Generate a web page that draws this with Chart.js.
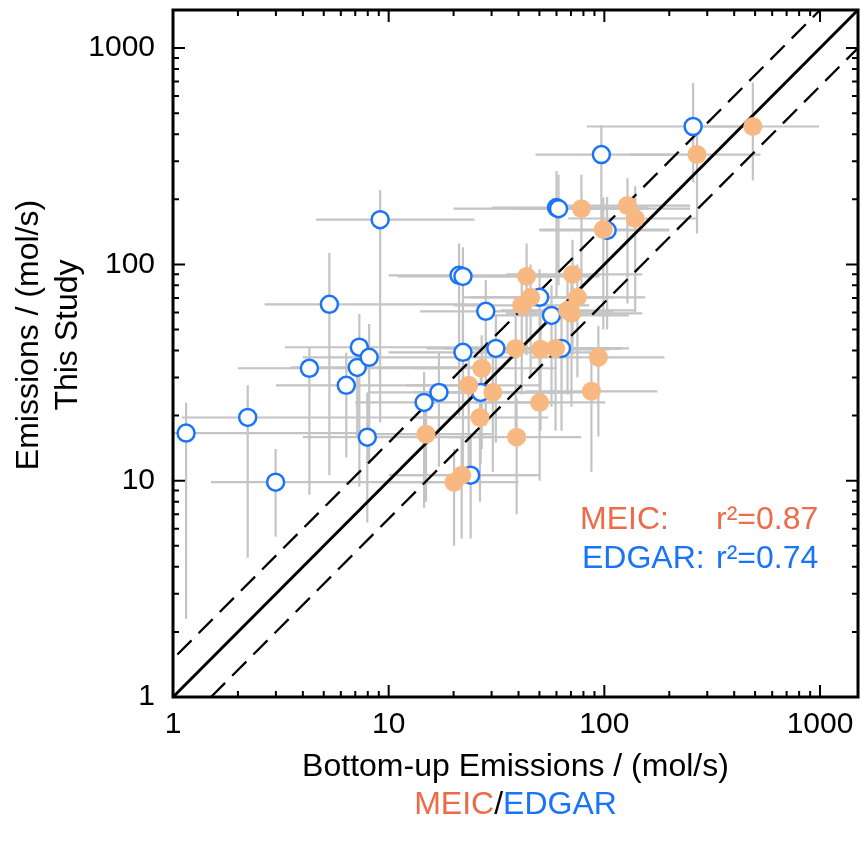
<!DOCTYPE html>
<html>
<head>
<meta charset="utf-8">
<script src="https://cdn.jsdelivr.net/npm/chart.js@4/dist/chart.umd.min.js"></script>
<style>
html,body{margin:0;padding:0;background:#fff;}
#wrap{width:862px;height:848px;position:relative;}
</style>
</head>
<body>
<div id="wrap"><canvas id="c" width="862" height="848"></canvas></div>
<script>
// ---------------- data ----------------
const axisMin = 1;
const axisMax = 1500;
const tickLabels = ['1', '10', '100', '1000'];
const ratioBand = 1.5;          // dashed lines: y = 1.5x and y = x/1.5
const oneToOne = [1, 1500];

// EDGAR (open blue circles)
const edgarX   = [1.15, 2.22, 2.99, 4.29, 5.31, 6.36, 7.15, 7.31, 8.12, 7.96, 9.13, 14.6, 17.1, 21.2, 22.1, 22.1, 24.0, 28.2, 31.4, 26.7, 50.1, 56.9, 63.3, 60.0, 61.3, 96.9, 103, 258];
const edgarY   = [16.6, 19.6, 9.84, 33.1, 65.4, 27.6, 33.4, 41.4, 37.2, 15.9, 161, 23.0, 25.6, 89, 88, 39.2, 10.6, 60.7, 40.9, 25.6, 70.4, 58.1, 40.9, 183, 181, 322, 143.6, 434];
const edgarXLo = [0.5, 1.1, 1.5, 2.0, 2.66, 3.0, 3.5, 3.3, 4.0, 4.0, 4.6, 7, 8, 10, 11, 10, 10, 14, 15, 13, 24, 27, 30, 30, 20, 48, 50, 83];
const edgarXHi = [8, 30, 20, 18, 30, 30, 25, 30, 40, 30, 25, 60, 70, 55, 60, 90, 50, 110, 120, 80, 110, 130, 130, 160, 250, 200, 200, 480];
const edgarYLo = [2.3, 4.4, 5.5, 8.6, 10.6, 12.8, 16, 9.4, 12, 6.4, 18.6, 7.5, 11.6, 20, 25, 11, 5.4, 18, 15, 12, 30, 22, 17, 70, 80, 150, 50, 240];
const edgarYHi = [23, 27.6, 14, 41.5, 113, 39, 45, 59, 53, 25.6, 220, 31.8, 39, 125, 120, 55, 16, 85, 58, 36, 95, 80, 58, 270, 260, 440, 205, 690];

// MEIC (filled orange circles)
const meicX   = [14.9, 20.1, 21.8, 26.5, 23.5, 27.0, 30.4, 38.8, 39.2, 41.4, 43.6, 45.5, 50.1, 50.6, 59.4, 67.5, 70.4, 71.2, 75.0, 78.3, 87.1, 93.8, 98.9, 128, 139, 269, 488];
const meicY   = [16.4, 9.84, 10.6, 19.6, 27.6, 33.1, 25.6, 40.9, 15.9, 64.7, 88, 70.4, 23.0, 40.5, 40.9, 61.3, 59.4, 89.9, 70.4, 181, 25.9, 37.2, 145, 187, 163, 322, 434];
const meicXLo = [7, 10, 11, 13, 12, 13, 15, 18, 19, 20, 21, 22, 25, 25, 28, 33, 35, 35, 37, 38, 43, 46, 50, 62, 68, 130, 250];
const meicXHi = [30, 40, 48, 55, 50, 60, 70, 80, 78, 85, 95, 100, 101, 105, 120, 140, 150, 150, 155, 160, 176, 190, 200, 250, 270, 530, 990];
const meicYLo = [8, 5, 5.4, 8, 11, 14, 11, 16, 7, 25, 38, 30, 10, 17, 17, 25, 22, 38, 30, 70, 11, 16, 50, 66, 60, 139, 244];
const meicYHi = [23, 14, 16, 28, 40, 47, 37, 58, 24, 92, 125, 100, 32, 58, 57, 88, 85, 130, 100, 260, 37, 52, 204, 250, 230, 450, 693];

// ---------------- styles ----------------
const FONT = '"Liberation Sans", Arial, Helvetica, sans-serif';
const COL_MEIC_FILL = '#F8B882';
const COL_MEIC_TEXT = '#EE6B48';
const COL_EDGAR = '#1A74FA';
const COL_ERR = '#C4C4C4';

const pts = (xs, ys) => xs.map((x, i) => ({x: x, y: ys[i]}));

const errorBarPlugin = {
  id: 'errorBars',
  beforeDatasetsDraw(chart) {
    const {ctx, chartArea: a, scales: {x: xs, y: ys}} = chart;
    ctx.save();
    ctx.beginPath();
    ctx.rect(a.left, a.top, a.right - a.left, a.bottom - a.top);
    ctx.clip();
    ctx.strokeStyle = COL_ERR;
    ctx.lineWidth = 2.2;
    const series = [
      [edgarX, edgarY, edgarXLo, edgarXHi, edgarYLo, edgarYHi],
      [meicX, meicY, meicXLo, meicXHi, meicYLo, meicYHi]
    ];
    series.forEach(([X, Y, XL, XH, YL, YH]) => {
      X.forEach((xv, i) => {
        const px = xs.getPixelForValue(xv), py = ys.getPixelForValue(Y[i]);
        ctx.beginPath();
        ctx.moveTo(xs.getPixelForValue(XL[i]), py);
        ctx.lineTo(xs.getPixelForValue(XH[i]), py);
        ctx.moveTo(px, ys.getPixelForValue(YL[i]));
        ctx.lineTo(px, ys.getPixelForValue(YH[i]));
        ctx.stroke();
      });
    });
    ctx.restore();
  }
};

const framePlugin = {
  id: 'frame',
  afterDraw(chart) {
    const {ctx, chartArea: a, scales: {x: xs, y: ys}} = chart;
    ctx.save();
    ctx.strokeStyle = '#000';
    ctx.lineWidth = 2;
    // minor/major ticks, inward, all four sides
    for (let d = 1; d <= 1000; d *= 10) {
      for (let m = 1; m <= 9; m++) {
        const v = d * m;
        if (v > axisMax) continue;
        const len = m === 1 ? 12 : 6;
        const px = xs.getPixelForValue(v);
        const py = ys.getPixelForValue(v);
        ctx.beginPath();
        ctx.moveTo(px, a.bottom); ctx.lineTo(px, a.bottom - len);
        ctx.moveTo(px, a.top); ctx.lineTo(px, a.top + len);
        ctx.moveTo(a.left, py); ctx.lineTo(a.left + len, py);
        ctx.moveTo(a.right, py); ctx.lineTo(a.right - len, py);
        ctx.stroke();
      }
    }
    ctx.lineWidth = 3;
    ctx.strokeRect(a.left, a.top, a.right - a.left, a.bottom - a.top);

    // axis titles
    ctx.fillStyle = '#000';
    ctx.font = '32px ' + FONT;
    ctx.textAlign = 'center';
    ctx.textBaseline = 'middle';
    const cx = (a.left + a.right) / 2;
    ctx.fillText('Bottom-up Emissions / (mol/s)', cx, 767);
    const w1 = ctx.measureText('MEIC').width;
    const w2 = ctx.measureText('/').width;
    const w3 = ctx.measureText('EDGAR').width;
    let sx = cx - (w1 + w2 + w3) / 2;
    ctx.textAlign = 'left';
    ctx.fillStyle = COL_MEIC_TEXT; ctx.fillText('MEIC', sx, 805);
    ctx.fillStyle = '#000'; ctx.fillText('/', sx + w1, 805);
    ctx.fillStyle = COL_EDGAR; ctx.fillText('EDGAR', sx + w1 + w2, 805);

    ctx.save();
    ctx.fillStyle = '#000';
    ctx.textAlign = 'center';
    ctx.translate(29, 335);
    ctx.rotate(-Math.PI / 2);
    ctx.fillText('Emissions / (mol/s)', 0, 0);
    ctx.fillText('This Study', 0, 39);
    ctx.restore();

    // r^2 annotation
    ctx.textAlign = 'left';
    ctx.textBaseline = 'alphabetic';
    ctx.font = '32px ' + FONT;
    ctx.fillStyle = COL_MEIC_TEXT;
    ctx.fillText('MEIC:', 580, 529);
    ctx.fillText('r\u00B2=0.87', 716, 529);
    ctx.fillStyle = COL_EDGAR;
    ctx.fillText('EDGAR:', 582, 568);
    ctx.fillText('r\u00B2=0.74', 716, 568);
    ctx.restore();
  }
};

const keepDecades = (s) => {
  s.ticks = s.ticks.filter(t => tickLabels.includes(String(Math.round(t.value))) && Math.abs(t.value - Math.round(t.value)) < 1e-9);
};
const tickCb = (v) => String(Math.round(v));

new Chart(document.getElementById('c'), {
  type: 'scatter',
  data: {
    datasets: [
      {
        label: 'MEIC',
        data: pts(meicX, meicY),
        backgroundColor: COL_MEIC_FILL,
        borderColor: COL_MEIC_FILL,
        borderWidth: 0,
        pointRadius: 9.5,
        order: 0
      },
      {
        label: 'EDGAR',
        data: pts(edgarX, edgarY),
        backgroundColor: '#ffffff',
        borderColor: COL_EDGAR,
        borderWidth: 2.5,
        pointRadius: 8.5,
        order: 1
      },
      {
        label: '1:1',
        data: [{x: oneToOne[0], y: oneToOne[0]}, {x: oneToOne[1], y: oneToOne[1]}],
        showLine: true, borderColor: '#000', borderWidth: 3, pointRadius: 0, clip: 0, order: 2
      },
      {
        label: 'x1.5',
        data: [{x: oneToOne[0] / ratioBand, y: oneToOne[0]}, {x: oneToOne[1], y: oneToOne[1] * ratioBand}],
        showLine: true, borderColor: '#000', borderWidth: 2.3, borderDash: [20, 10], pointRadius: 0, clip: 0, order: 2
      },
      {
        label: '/1.5',
        data: [{x: oneToOne[0] * ratioBand, y: oneToOne[0]}, {x: oneToOne[1], y: oneToOne[1] / ratioBand}],
        showLine: true, borderColor: '#000', borderWidth: 2.3, borderDash: [20, 10], pointRadius: 0, clip: 0, order: 2
      }
    ]
  },
  options: {
    responsive: false,
    animation: false,
    devicePixelRatio: 1,
    layout: {autoPadding: false, padding: {top: 10, right: 4, bottom: 0, left: 0}},
    plugins: {legend: {display: false}, tooltip: {enabled: false}},
    scales: {
      x: {
        type: 'logarithmic', min: axisMin, max: axisMax, position: 'bottom',
        grid: {display: false, drawTicks: false},
        border: {display: false},
        ticks: {autoSkip: false, maxRotation: 0, padding: 10, color: '#000',
                font: {family: FONT, size: 30}, callback: tickCb},
        afterBuildTicks: keepDecades,
        afterFit(s) { s.height = 151; s.paddingLeft = 0; s.paddingRight = 0; }
      },
      y: {
        type: 'logarithmic', min: axisMin, max: axisMax, position: 'left',
        grid: {display: false, drawTicks: false},
        border: {display: false},
        ticks: {autoSkip: false, padding: 18, color: '#000',
                font: {family: FONT, size: 30}, callback: tickCb},
        afterBuildTicks: keepDecades,
        afterFit(s) { s.width = 173; s.paddingTop = 0; s.paddingBottom = 0; }
      }
    }
  },
  plugins: [errorBarPlugin, framePlugin]
});
</script>
</body>
</html>
